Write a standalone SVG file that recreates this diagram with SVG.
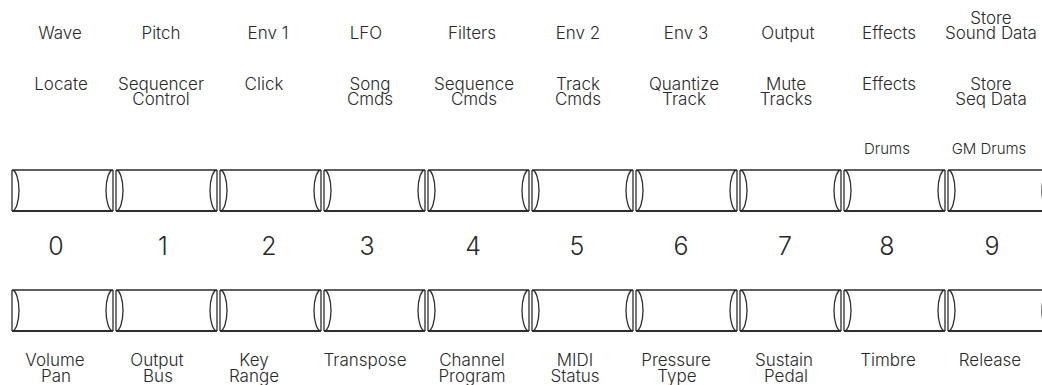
<svg xmlns="http://www.w3.org/2000/svg" xmlns:xlink="http://www.w3.org/1999/xlink" width="1042" height="385" viewBox="0 0 1042 385">
<style>
  .b { fill: none; stroke: #2e2e2e; stroke-width: 1.3; }
  .bb { fill: none; stroke: #2e2e2e; stroke-width: 1.8; }
  text { font-family: Inter, "Liberation Sans", Arial, sans-serif; font-weight: 300; fill: #2a2a2a; text-anchor: middle; }
  .l { font-size: 17px; }
  .s { font-size: 15px; }
  .d { font-size: 25px; }
</style>
<defs>
  <g id="btn">
    <rect x="0" y="0" width="101" height="41" fill="#fff" stroke="none"/>
    <path class="b" d="M0,0 H101 M0,0 V41 M101,0 V41 M0,0 A7,20.5 0 0 1 0,41 M101,0 A7,20.5 0 0 0 101,41"/>
    <path class="bb" d="M0,41 H101"/>
  </g>
</defs>
<rect width="1042" height="385" fill="#fff"/>

<g id="top-row-buttons">
  <use id="btn-top-0" xlink:href="#btn" href="#btn" x="12" y="170"/>
  <use id="btn-top-1" xlink:href="#btn" href="#btn" x="116" y="170"/>
  <use id="btn-top-2" xlink:href="#btn" href="#btn" x="220" y="170"/>
  <use id="btn-top-3" xlink:href="#btn" href="#btn" x="324" y="170"/>
  <use id="btn-top-4" xlink:href="#btn" href="#btn" x="428" y="170"/>
  <use id="btn-top-5" xlink:href="#btn" href="#btn" x="532" y="170"/>
  <use id="btn-top-6" xlink:href="#btn" href="#btn" x="636" y="170"/>
  <use id="btn-top-7" xlink:href="#btn" href="#btn" x="740" y="170"/>
  <use id="btn-top-8" xlink:href="#btn" href="#btn" x="844" y="170"/>
  <use id="btn-top-9" xlink:href="#btn" href="#btn" x="948" y="170"/>
</g>

<g id="bottom-row-buttons">
  <use id="btn-bot-0" xlink:href="#btn" href="#btn" x="12" y="290"/>
  <use id="btn-bot-1" xlink:href="#btn" href="#btn" x="116" y="290"/>
  <use id="btn-bot-2" xlink:href="#btn" href="#btn" x="220" y="290"/>
  <use id="btn-bot-3" xlink:href="#btn" href="#btn" x="324" y="290"/>
  <use id="btn-bot-4" xlink:href="#btn" href="#btn" x="428" y="290"/>
  <use id="btn-bot-5" xlink:href="#btn" href="#btn" x="532" y="290"/>
  <use id="btn-bot-6" xlink:href="#btn" href="#btn" x="636" y="290"/>
  <use id="btn-bot-7" xlink:href="#btn" href="#btn" x="740" y="290"/>
  <use id="btn-bot-8" xlink:href="#btn" href="#btn" x="844" y="290"/>
  <use id="btn-bot-9" xlink:href="#btn" href="#btn" x="948" y="290"/>
</g>

<g id="labels-row1">
  <text class="l" x="60" y="39">Wave</text>
  <text class="l" x="161" y="39">Pitch</text>
  <text class="l" x="268" y="39">Env 1</text>
  <text class="l" x="366" y="39">LFO</text>
  <text class="l" x="472" y="39">Filters</text>
  <text class="l" x="578" y="39">Env 2</text>
  <text class="l" x="686" y="39">Env 3</text>
  <text class="l" x="788" y="39">Output</text>
  <text class="l" x="889" y="39">Effects</text>
  <text class="l" x="991" y="23.5">Store</text>
  <text class="l" x="991" y="39">Sound Data</text>
</g>

<g id="labels-row2">
  <text class="l" x="61" y="90">Locate</text>
  <text class="l" x="161" y="89.5">Sequencer</text>
  <text class="l" x="161" y="105">Control</text>
  <text class="l" x="264" y="90">Click</text>
  <text class="l" x="370" y="89.5">Song</text>
  <text class="l" x="370" y="105">Cmds</text>
  <text class="l" x="474" y="89.5">Sequence</text>
  <text class="l" x="474" y="105">Cmds</text>
  <text class="l" x="578" y="89.5">Track</text>
  <text class="l" x="578" y="105">Cmds</text>
  <text class="l" x="684" y="89.5">Quantize</text>
  <text class="l" x="684" y="105">Track</text>
  <text class="l" x="786" y="89.5">Mute</text>
  <text class="l" x="786" y="105">Tracks</text>
  <text class="l" x="889" y="90">Effects</text>
  <text class="l" x="991" y="89.5">Store</text>
  <text class="l" x="991" y="105">Seq Data</text>
</g>

<g id="labels-drums">
  <text class="s" x="887" y="154">Drums</text>
  <text class="s" x="989" y="154">GM Drums</text>
</g>

<g id="digits">
  <text class="d" x="56" y="255">0</text>
  <text class="d" x="163" y="255">1</text>
  <text class="d" x="269" y="255">2</text>
  <text class="d" x="367" y="255">3</text>
  <text class="d" x="473" y="255">4</text>
  <text class="d" x="577" y="255">5</text>
  <text class="d" x="681" y="255">6</text>
  <text class="d" x="785" y="255">7</text>
  <text class="d" x="887" y="255">8</text>
  <text class="d" x="992" y="255">9</text>
</g>

<g id="labels-bottom">
  <text class="l" x="55" y="366">Volume</text>
  <text class="l" x="56" y="381.5">Pan</text>
  <text class="l" x="157" y="366">Output</text>
  <text class="l" x="158" y="381.5">Bus</text>
  <text class="l" x="254" y="366">Key</text>
  <text class="l" x="254" y="381.5">Range</text>
  <text class="l" x="365" y="366">Transpose</text>
  <text class="l" x="472" y="366">Channel</text>
  <text class="l" x="472" y="381.5">Program</text>
  <text class="l" x="575" y="366">MIDI</text>
  <text class="l" x="575" y="381.5">Status</text>
  <text class="l" x="676" y="366">Pressure</text>
  <text class="l" x="677" y="381.5">Type</text>
  <text class="l" x="784" y="366">Sustain</text>
  <text class="l" x="786" y="381.5">Pedal</text>
  <text class="l" x="888" y="366">Timbre</text>
  <text class="l" x="990" y="366">Release</text>
</g>

<g id="connectors"></g>
</svg>
